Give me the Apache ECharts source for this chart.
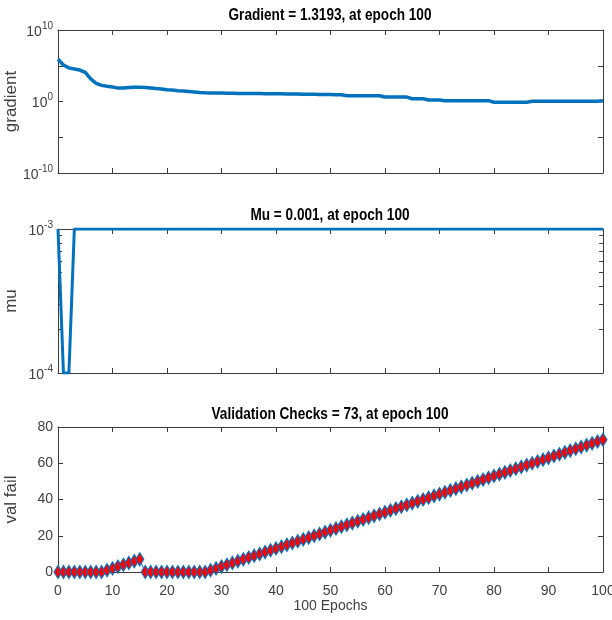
<!DOCTYPE html>
<html>
<head>
<meta charset="utf-8">
<script src="https://cdn.jsdelivr.net/npm/echarts@6/dist/echarts.min.js"></script>
<style>
  html, body { margin: 0; padding: 0; background: #fff; }
  #chart { width: 612px; height: 620px; }
</style>
</head>
<body>
<div id="chart"></div>
<script>
// epochs 0..100
const epochs = [
  0,1,2,3,4,5,6,7,8,9,10,11,12,13,14,15,16,17,18,19,20,21,22,23,24,25,26,27,28,29,30,
  31,32,33,34,35,36,37,38,39,40,41,42,43,44,45,46,47,48,49,50,51,52,53,54,55,56,57,58,59,60,
  61,62,63,64,65,66,67,68,69,70,71,72,73,74,75,76,77,78,79,80,81,82,83,84,85,86,87,88,89,90,
  91,92,93,94,95,96,97,98,99,100
]

const gradient = [
  8e5, 1.3e5, 5e4, 3.5e4, 2.5e4, 1.2e4, 1.5e3, 350, 180, 140, 110,
  75, 75, 90, 95, 95, 90, 80, 65, 55, 45,
  40, 33, 30, 26, 22, 18.5, 17, 16, 15.5, 15,
  14.5, 14, 13.5, 13.5, 13, 13, 13, 12.5, 12.5, 12,
  12, 11.5, 11.5, 11, 10, 10, 10, 9.5, 9.5, 9.5,
  9, 9, 6.5, 6.5, 6.5, 6.5, 6.5, 6.5, 6.5, 4.2,
  4.2, 4.2, 4.2, 4.2, 2.4, 2.4, 2.4, 1.6, 1.6, 1.6,
  1.3, 1.3, 1.3, 1.3, 1.3, 1.3, 1.3, 1.3, 1.3, 0.8,
  0.8, 0.8, 0.8, 0.8, 0.8, 0.8, 1.1, 1.1, 1.1, 1.1,
  1.1, 1.1, 1.1, 1.1, 1.1, 1.1, 1.1, 1.1, 1.1, 1.3193
]

const mu = [
  1e-3, 1e-4, 1e-4, 1e-3, 1e-3, 1e-3, 1e-3, 1e-3, 1e-3, 1e-3, 1e-3,
  1e-3, 1e-3, 1e-3, 1e-3, 1e-3, 1e-3, 1e-3, 1e-3, 1e-3, 1e-3,
  1e-3, 1e-3, 1e-3, 1e-3, 1e-3, 1e-3, 1e-3, 1e-3, 1e-3, 1e-3,
  1e-3, 1e-3, 1e-3, 1e-3, 1e-3, 1e-3, 1e-3, 1e-3, 1e-3, 1e-3,
  1e-3, 1e-3, 1e-3, 1e-3, 1e-3, 1e-3, 1e-3, 1e-3, 1e-3, 1e-3,
  1e-3, 1e-3, 1e-3, 1e-3, 1e-3, 1e-3, 1e-3, 1e-3, 1e-3, 1e-3,
  1e-3, 1e-3, 1e-3, 1e-3, 1e-3, 1e-3, 1e-3, 1e-3, 1e-3, 1e-3,
  1e-3, 1e-3, 1e-3, 1e-3, 1e-3, 1e-3, 1e-3, 1e-3, 1e-3, 1e-3,
  1e-3, 1e-3, 1e-3, 1e-3, 1e-3, 1e-3, 1e-3, 1e-3, 1e-3, 1e-3,
  1e-3, 1e-3, 1e-3, 1e-3, 1e-3, 1e-3, 1e-3, 1e-3, 1e-3, 1e-3
]

const valFail = [
  0, 0, 0, 0, 0, 0, 0, 0, 0, 1, 2,
  3, 4, 5, 6, 7, 0, 0, 0, 0, 0,
  0, 0, 0, 0, 0, 0, 0, 1, 2, 3,
  4, 5, 6, 7, 8, 9, 10, 11, 12, 13,
  14, 15, 16, 17, 18, 19, 20, 21, 22, 23,
  24, 25, 26, 27, 28, 29, 30, 31, 32, 33,
  34, 35, 36, 37, 38, 39, 40, 41, 42, 43,
  44, 45, 46, 47, 48, 49, 50, 51, 52, 53,
  54, 55, 56, 57, 58, 59, 60, 61, 62, 63,
  64, 65, 66, 67, 68, 69, 70, 71, 72, 73
]

const titles = ['Gradient = 1.3193, at epoch 100', 'Mu = 0.001, at epoch 100', 'Validation Checks = 73, at epoch 100']
const yNames = ['gradient', 'mu', 'val fail']
const gradTicks = [1e-10, 1e-5, 1, 1e5, 1e10]
const gradLabels = [1e-10, 1, 1e10]
const muTicks = [1e-4, 2e-4, 3e-4, 4e-4, 5e-4, 6e-4, 7e-4, 8e-4, 9e-4, 1e-3]
const muLabels = [1e-4, 1e-3]

const axisColor = '#3c3c3c'
const textColor = '#404040'
const lineBlue = '#0072BD'
const tops = [30, 229, 427]
const heights = [143, 144, 145]
const titleY = [15, 215, 414]

function pair(ys) {
  return epochs.map((e, i) => [e, ys[i]])
}

function powLabel(v) {
  let n = Math.round(Math.log10(v))
  return '{b|10}{s|' + n + '}'
}

const powRich = {
  b: { fontSize: 14, color: textColor, fontFamily: 'Liberation Sans', verticalAlign: 'bottom', lineHeight: 18 },
  s: { fontSize: 10, color: textColor, fontFamily: 'Liberation Sans', verticalAlign: 'top', lineHeight: 10 }
}

// onZero off, otherwise the top/right box axes get pulled onto the other axis' zero
const boxLine = { show: true, onZero: false, lineStyle: { color: axisColor, width: 1 } }

function ticks(len, custom) {
  let t = { show: true, inside: true, length: len, lineStyle: { color: axisColor } }
  if (custom) t.customValues = custom
  return t
}

function xAxes(gi, showLabels) {
  let base = {
    type: 'value', gridIndex: gi, min: 0, max: 100, interval: 10,
    axisLine: boxLine, axisTick: ticks(5), splitLine: { show: false }
  }
  return [
    Object.assign({}, base, {
      position: 'bottom',
      axisLabel: { show: showLabels, color: textColor, fontSize: 14, fontFamily: 'Liberation Sans', margin: 12 },
      name: showLabels ? '100 Epochs' : '',
      nameLocation: 'middle', nameGap: 27, nameMoveOverlap: false,
      nameTextStyle: { color: textColor, fontSize: 14, fontFamily: 'Liberation Sans' }
    }),
    Object.assign({}, base, { position: 'top', axisLabel: { show: false } })
  ]
}

function yAxes(gi, cfg) {
  let left = Object.assign({
    gridIndex: gi, position: 'left', axisLine: boxLine, splitLine: { show: false },
    name: yNames[gi], nameLocation: 'middle', nameGap: 38, nameRotate: 90, nameMoveOverlap: false,
    nameTextStyle: { color: textColor, fontSize: 17, fontFamily: 'Liberation Sans' }
  }, cfg, { axisLabel: cfg.axisLabel })
  let right = Object.assign({
    gridIndex: gi, position: 'right', axisLine: boxLine, splitLine: { show: false }
  }, cfg, { axisLabel: { show: false } })
  return [left, right]
}

const gradY = yAxes(0, {
  type: 'log', logBase: 10, min: 1e-10, max: 1e10,
  axisTick: ticks(5, gradTicks),
  axisLabel: { show: true, customValues: gradLabels, formatter: powLabel, rich: powRich, margin: 5 }
})

const muY = yAxes(1, {
  type: 'log', logBase: 10, min: 1e-4, max: 1e-3,
  axisTick: ticks(4, muTicks),
  axisLabel: { show: true, customValues: muLabels, formatter: powLabel, rich: powRich, margin: 5 }
})

const valY = yAxes(2, {
  type: 'value', min: 0, max: 80, interval: 20,
  axisTick: ticks(5),
  axisLabel: { show: true, color: textColor, fontSize: 14, fontFamily: 'Liberation Sans', margin: 5 }
})

let option = {
  animation: false,
  backgroundColor: '#fff',
  // titles are condensed in the original, so squeeze them horizontally
  graphic: titles.map((t, i) => ({
    type: 'text', x: 330, y: titleY[i], scaleX: 0.8,
    style: {
      text: t, textAlign: 'center', textVerticalAlign: 'middle',
      font: 'bold 17px "Liberation Sans"', fill: '#000'
    }
  })),
  grid: tops.map((t, i) => ({ left: 58, right: 9, top: t, height: heights[i], containLabel: false, outerBoundsMode: 'none' })),
  xAxis: [].concat(xAxes(0, false), xAxes(1, false), xAxes(2, true)),
  yAxis: [].concat(gradY, muY, valY),
  series: [
    {
      type: 'line', xAxisIndex: 0, yAxisIndex: 0, data: pair(gradient),
      showSymbol: false, lineStyle: { color: lineBlue, width: 3.5 }
    },
    {
      type: 'line', xAxisIndex: 2, yAxisIndex: 2, data: pair(mu),
      showSymbol: false, lineStyle: { color: lineBlue, width: 3 }
    },
    {
      type: 'line', xAxisIndex: 4, yAxisIndex: 4, data: pair(valFail),
      symbol: 'diamond', symbolSize: [8, 13], showAllSymbol: true,
      lineStyle: { color: lineBlue, width: 1 },
      itemStyle: { color: '#ff0000', borderColor: lineBlue, borderWidth: 1.2 }
    }
  ]
}

let chart = echarts.init(document.getElementById('chart'))
chart.setOption(option)
</script>
</body>
</html>
